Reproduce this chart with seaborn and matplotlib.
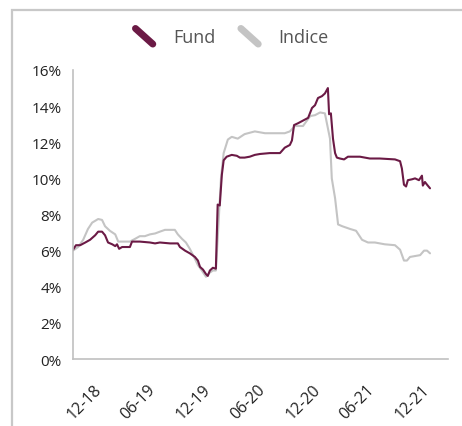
import numpy as np
import pandas as pd
import matplotlib
matplotlib.use("Agg")
import matplotlib.pyplot as plt
import matplotlib.dates as mdates
from matplotlib.lines import Line2D
from matplotlib.legend_handler import HandlerBase
from matplotlib.patches import Rectangle
import seaborn as sns

fund_dates = ["2018-09-25", "2018-10-05", "2018-10-19", "2018-11-05", "2018-11-21", "2018-12-08",
              "2018-12-18", "2018-12-31", "2019-01-10", "2019-01-20", "2019-02-03", "2019-02-13",
              "2019-02-19", "2019-02-26", "2019-03-08", "2019-03-24", "2019-04-03", "2019-04-10",
              "2019-05-06", "2019-06-09", "2019-06-26", "2019-07-12", "2019-08-15", "2019-09-10",
              "2019-09-17", "2019-10-04", "2019-10-20", "2019-11-06", "2019-11-16", "2019-11-23",
              "2019-12-03", "2019-12-13", "2019-12-19", "2019-12-26", "2020-01-05", "2020-01-15",
              "2020-01-21", "2020-01-28", "2020-02-04", "2020-02-10", "2020-02-20", "2020-03-08",
              "2020-03-25", "2020-04-04", "2020-04-20", "2020-05-07", "2020-05-24", "2020-06-10",
              "2020-07-13", "2020-08-16", "2020-09-01", "2020-09-18", "2020-09-25", "2020-10-02",
              "2020-10-15", "2020-11-01", "2020-11-18", "2020-12-01", "2020-12-11", "2020-12-21",
              "2021-01-03", "2021-01-13", "2021-01-23", "2021-01-27", "2021-02-02", "2021-02-09",
              "2021-02-16", "2021-02-22", "2021-03-04", "2021-03-18", "2021-03-31", "2021-04-23",
              "2021-05-10", "2021-06-12", "2021-07-15", "2021-09-04", "2021-09-21", "2021-09-27",
              "2021-10-04", "2021-10-11", "2021-10-17", "2021-10-31", "2021-11-10", "2021-11-23",
              "2021-12-03", "2021-12-06", "2021-12-13", "2021-12-20", "2021-12-30"]
fund_values = [6.05, 6.3, 6.3, 6.45, 6.6, 6.85,
               7.05, 7.05, 6.85, 6.45, 6.35, 6.25,
               6.35, 6.1, 6.2, 6.2, 6.2, 6.5,
               6.5, 6.45, 6.4, 6.45, 6.4, 6.4,
               6.2, 6.0, 5.85, 5.65, 5.45, 5.1,
               4.95, 4.7, 4.6, 4.9, 5.05, 5.0,
               8.55, 8.5, 10.2, 11.0, 11.2, 11.3,
               11.25, 11.15, 11.15, 11.2, 11.3, 11.35,
               11.4, 11.4, 11.7, 11.85, 12.1, 12.95,
               13.05, 13.2, 13.35, 13.9, 14.05, 14.45,
               14.55, 14.7, 15.0, 13.55, 13.6, 12.2,
               11.4, 11.15, 11.1, 11.05, 11.2, 11.2,
               11.2, 11.1, 11.1, 11.05, 10.95, 10.55,
               9.65, 9.55, 9.9, 9.95, 10.0, 9.9,
               10.15, 9.6, 9.8, 9.65, 9.45]

index_dates = ["2018-09-25", "2018-10-12", "2018-10-29", "2018-11-14", "2018-11-28", "2018-12-18",
               "2018-12-31", "2019-01-10", "2019-01-26", "2019-02-13", "2019-02-23", "2019-03-17",
               "2019-04-03", "2019-04-20", "2019-05-06", "2019-05-23", "2019-06-09", "2019-06-26",
               "2019-07-12", "2019-07-29", "2019-08-31", "2019-09-10", "2019-09-24", "2019-10-07",
               "2019-10-20", "2019-11-03", "2019-11-16", "2019-11-29", "2019-12-13", "2019-12-23",
               "2020-01-05", "2020-01-15", "2020-01-21", "2020-02-01", "2020-02-10", "2020-02-24",
               "2020-03-08", "2020-03-28", "2020-04-20", "2020-05-24", "2020-06-27", "2020-07-30",
               "2020-09-01", "2020-09-18", "2020-10-05", "2020-11-01", "2020-11-25", "2020-12-11",
               "2020-12-28", "2021-01-13", "2021-01-30", "2021-02-05", "2021-02-16", "2021-02-26",
               "2021-03-12", "2021-04-07", "2021-04-27", "2021-05-17", "2021-06-06", "2021-06-29",
               "2021-08-01", "2021-09-04", "2021-09-21", "2021-10-04", "2021-10-14", "2021-10-24",
               "2021-11-10", "2021-11-27", "2021-12-10", "2021-12-20", "2021-12-30"]
index_values = [6.0, 6.2, 6.6, 7.2, 7.55, 7.75,
                7.7, 7.35, 7.1, 6.9, 6.5, 6.5,
                6.5, 6.65, 6.8, 6.8, 6.9, 6.95,
                7.05, 7.15, 7.15, 6.9, 6.65, 6.45,
                6.1, 5.65, 5.2, 4.9, 4.55, 4.75,
                4.9, 4.9, 6.65, 10.0, 11.4, 12.15,
                12.3, 12.2, 12.45, 12.6, 12.5, 12.5,
                12.5, 12.6, 12.9, 12.9, 13.45, 13.5,
                13.65, 13.6, 12.2, 10.0, 8.9, 7.45,
                7.35, 7.2, 7.1, 6.6, 6.45, 6.45,
                6.35, 6.3, 6.05, 5.45, 5.45, 5.65,
                5.7, 5.75, 6.0, 6.0, 5.85]

series_names = ["Fund", "Indice"]
series_colors = ["#6b1a45", "#c4c4c4"]
y_ticks = [0, 2, 4, 6, 8, 10, 12, 14, 16]

df = pd.concat([
    pd.DataFrame({"date": pd.to_datetime(fund_dates), "value": fund_values, "series": series_names[0]}),
    pd.DataFrame({"date": pd.to_datetime(index_dates), "value": index_values, "series": series_names[1]}),
], ignore_index=True)

sns.set_style("white")
plt.rcParams["font.family"] = ["Open Sans", "DejaVu Sans"]

fig = plt.figure(figsize=(4.62, 4.27), dpi=100)
fig.add_artist(Rectangle((12 / 462, -0.05), 1.2, 1 - 11 / 427 + 0.05, transform=fig.transFigure,
                         fill=False, edgecolor="#c8c8c8", linewidth=1.6))
ax = fig.add_axes([73 / 462, 1 - 360 / 427, (448 - 73) / 462, (360 - 71) / 427])

# draw Indice first so Fund is on top
sns.lineplot(data=df, x="date", y="value", hue="series", hue_order=series_names[::-1],
             palette=series_colors[::-1], linewidth=1.5, ax=ax, legend=False, sort=False,
             estimator=None)

ax.set_ylim(0, 16)
ax.set_yticks(y_ticks)
ax.set_yticklabels([f"{t}%" for t in y_ticks])
ax.set_xlim(pd.Timestamp("2018-09-25"), pd.Timestamp("2022-02-28"))
ax.xaxis.set_major_locator(mdates.MonthLocator(bymonth=[6, 12]))
ax.xaxis.set_major_formatter(mdates.DateFormatter("%m-%y"))
ax.set_xlabel("")
ax.set_ylabel("")
for s in ["top", "right"]:
    ax.spines[s].set_visible(False)
for s in ["left", "bottom"]:
    ax.spines[s].set_color("#c0c0c0")
    ax.spines[s].set_linewidth(1.2)
ax.tick_params(axis="y", length=5, color="#c0c0c0", labelsize=11, labelcolor="#222222", pad=3)
ax.tick_params(axis="x", length=10, color="#c0c0c0", labelsize=11.5, labelcolor="#222222", pad=6)
for lab in ax.get_xticklabels():
    lab.set_rotation(45)
    lab.set_ha("right")
    lab.set_rotation_mode("anchor")


class DiagHandler(HandlerBase):
    def create_artists(self, legend, orig_handle, xdescent, ydescent, width, height, fontsize, trans):
        x0 = -xdescent + width * 0.1
        x1 = -xdescent + width * 0.9
        y0 = -ydescent + height * 0.95
        y1 = -ydescent + height * 0.05
        ln = Line2D([x0, x1], [y0, y1], color=orig_handle.get_color(), linewidth=5,
                    solid_capstyle="round", transform=trans)
        return [ln]


handles = [Line2D([], [], color=c) for c in series_colors]
fig.legend(handles, series_names, loc="center", bbox_to_anchor=(231 / 462, 1 - 38 / 427),
           ncol=2, frameon=False, fontsize=13, labelcolor="#555555",
           handler_map={Line2D: DiagHandler()}, handlelength=1.2, handleheight=1.1,
           handletextpad=1.0, columnspacing=1.3)

fig.savefig("out.png", dpi=100)
